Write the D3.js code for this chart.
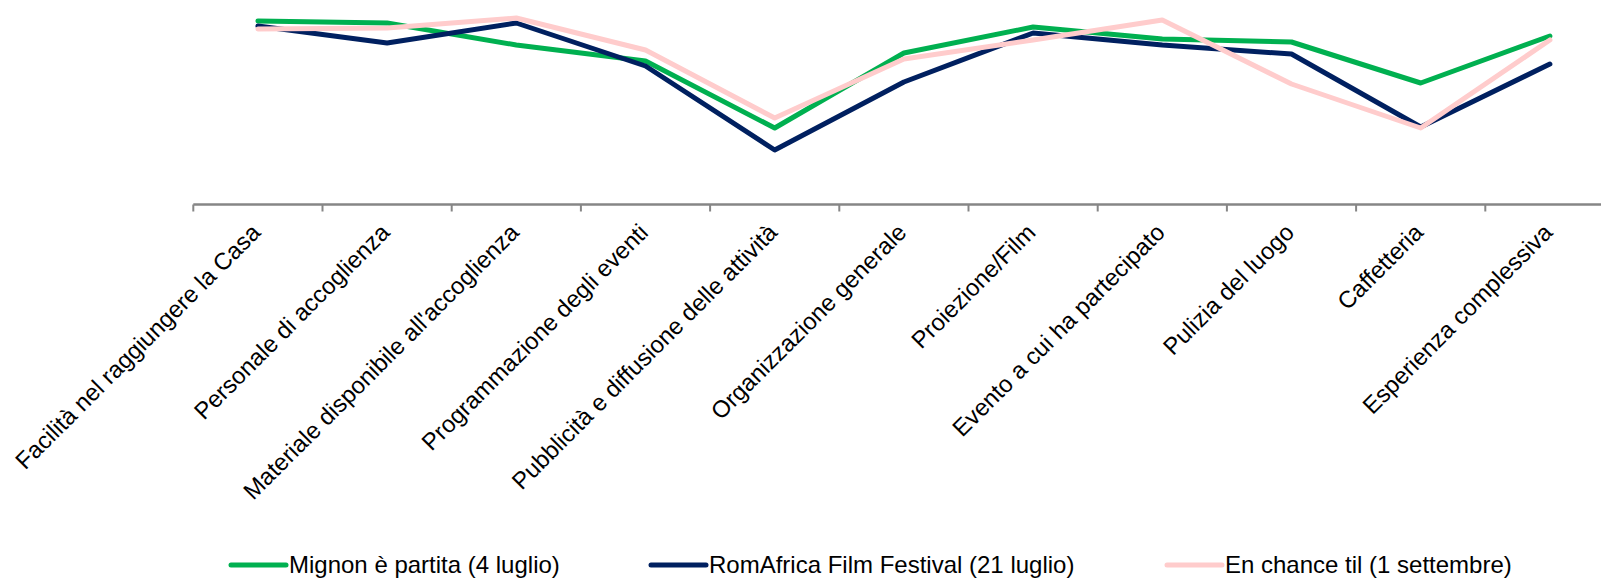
<!DOCTYPE html>
<html>
<head>
<meta charset="utf-8">
<script src="https://cdn.jsdelivr.net/npm/d3@7"></script>
<style>
  html, body { margin: 0; padding: 0; background: #fff; }
  svg { display: block; font-family: "Liberation Sans", Arial, sans-serif; }
</style>
</head>
<body>
<svg id="chart" width="1601" height="578"></svg>
<script>
// Survey categories (x axis)
const categories = [
  "Facilità nel raggiungere la Casa",
  "Personale di accoglienza",
  "Materiale disponibile all'accoglienza",
  "Programmazione degli eventi",
  "Pubblicità e diffusione delle attività",
  "Organizzazione generale",
  "Proiezione/Film",
  "Evento a cui ha partecipato",
  "Pulizia del luogo",
  "Caffetteria",
  "Esperienza complessiva"
];

// Average ratings per event
const mignon    = [4.83, 4.81, 4.59, 4.43, 3.76, 4.51, 4.77, 4.65, 4.62, 4.21, 4.68];
const romAfrica = [4.78, 4.61, 4.81, 4.38, 3.54, 4.22, 4.71, 4.59, 4.50, 3.77, 4.40];
const enChance  = [4.75, 4.76, 4.86, 4.54, 3.86, 4.45, 4.64, 4.84, 4.20, 3.76, 4.64];

const seriesNames  = ["Mignon è partita (4 luglio)", "RomAfrica Film Festival (21 luglio)", "En chance til (1 settembre)"];
const seriesColors = ["#00B050", "#002060", "#FFCCCC"];
const seriesValues = [mignon, romAfrica, enChance];

const svg = d3.select("#chart");

const x = d3.scaleBand()
  .domain(categories)
  .range([193.3, 193.3 + 129.2 * categories.length])
  .paddingInner(0).paddingOuter(0);

const y = d3.scaleLinear().domain([3, 5]).range([204, 4]);

// Category axis: baseline plus ticks on category boundaries
const axisY = 204.5;
const axisG = svg.append("g").attr("class", "x-axis");
axisG.append("line")
  .attr("x1", x.range()[0]).attr("x2", x.range()[1])
  .attr("y1", axisY).attr("y2", axisY)
  .attr("stroke", "#868686").attr("stroke-width", 2.5);

const boundaries = categories.map(c => x(c)).concat([x.range()[1]]);
axisG.selectAll("line.tick")
  .data(boundaries)
  .join("line")
  .attr("class", "tick")
  .attr("x1", d => d).attr("x2", d => d)
  .attr("y1", axisY).attr("y2", axisY + 7)
  .attr("stroke", "#868686").attr("stroke-width", 2);

// Rotated category labels
axisG.selectAll("text.label")
  .data(categories)
  .join("text")
  .attr("class", "label")
  .attr("transform", d => `translate(${x(d) + x.bandwidth() / 2 + 4},${234}) rotate(-45)`)
  .attr("text-anchor", "end")
  .attr("font-size", 23.8)
  .attr("fill", "#000")
  .text(d => d);

// Series lines
const line = d3.line()
  .x((d, i) => x(categories[i]) + x.bandwidth() / 2)
  .y(d => y(d));

svg.append("g").selectAll("path")
  .data(seriesValues)
  .join("path")
  .attr("d", d => line(d))
  .attr("fill", "none")
  .attr("stroke", (d, i) => seriesColors[i])
  .attr("stroke-width", 5)
  .attr("stroke-linejoin", "round")
  .attr("stroke-linecap", "round");

// Legend
const legendX = [231, 651, 1167];
const legendY = 565;
const legend = svg.append("g").selectAll("g")
  .data(seriesNames)
  .join("g")
  .attr("transform", (d, i) => `translate(${legendX[i]},${legendY})`);

legend.append("line")
  .attr("x1", 0).attr("x2", 55)
  .attr("y1", 0).attr("y2", 0)
  .attr("stroke", (d, i) => seriesColors[i])
  .attr("stroke-width", 5)
  .attr("stroke-linecap", "round");

legend.append("text")
  .attr("x", 58)
  .attr("y", 7.8)
  .attr("font-size", 24)
  .attr("fill", "#000")
  .text(d => d);
</script>
</body>
</html>
